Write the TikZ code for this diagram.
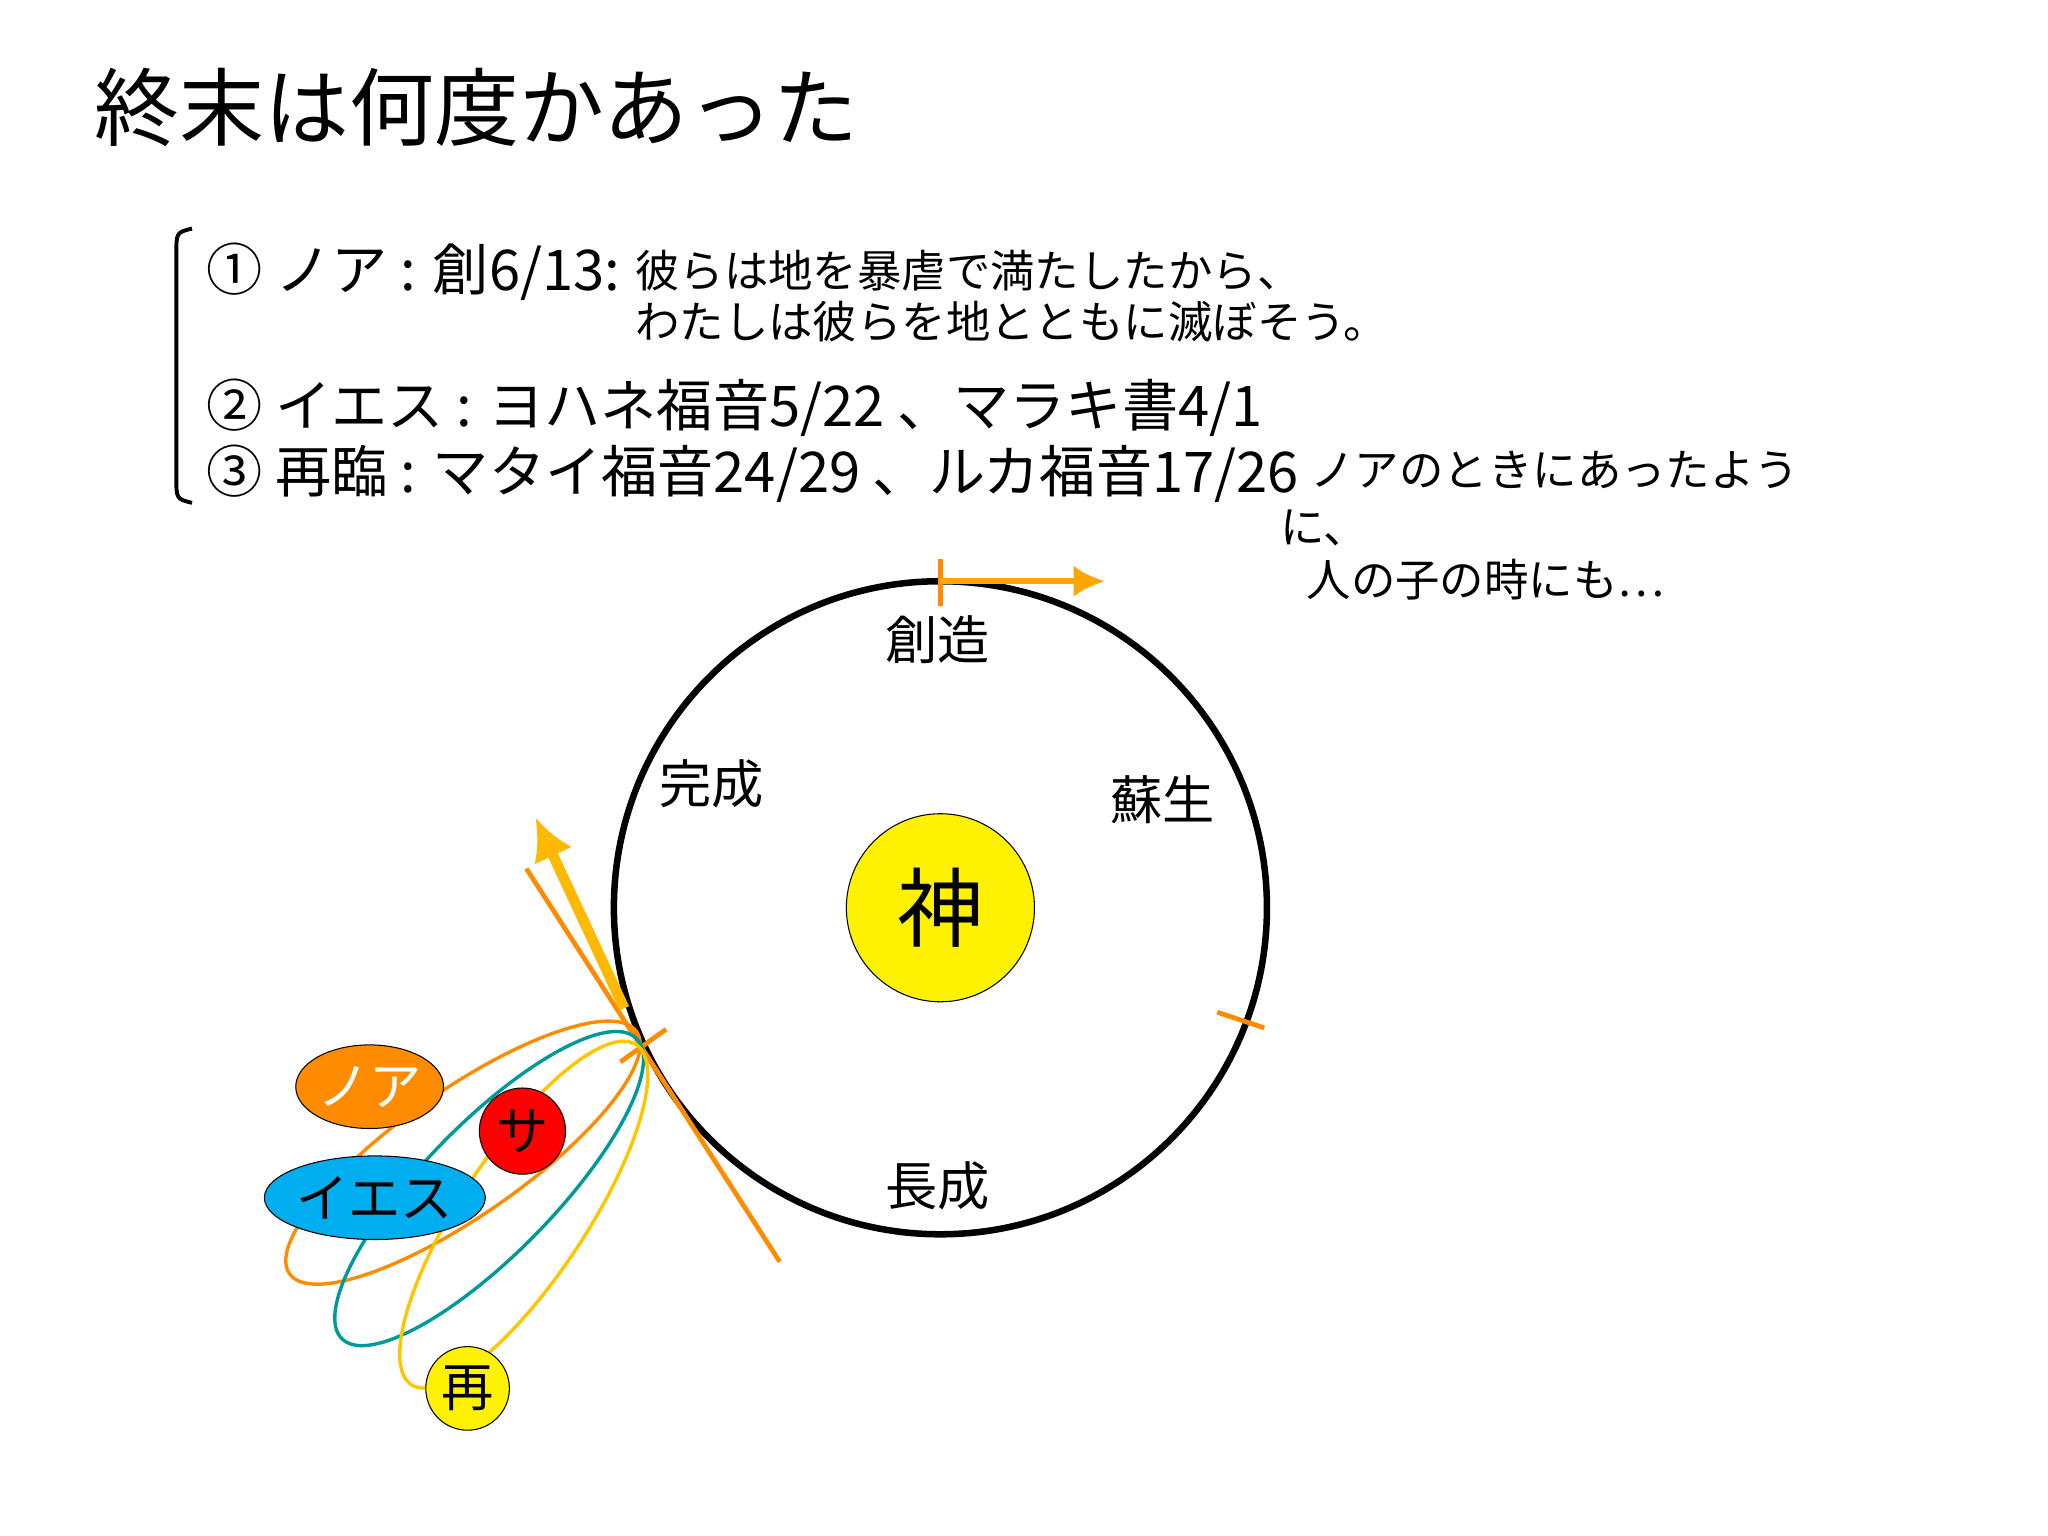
\documentclass[tikz,border=0pt]{standalone}
\usepackage{fontspec}
\usetikzlibrary{arrows.meta,shapes.geometric}
\setmainfont{Noto Sans CJK JP}
\begin{document}
\begin{tikzpicture}[x=0.5pt,y=-0.5pt,
  lbl/.style={inner sep=0pt,font=\fontsize{20}{24}\selectfont},
  body/.style={anchor=west,inner sep=0pt,font=\fontsize{21.5}{25}\selectfont},
  small/.style={anchor=west,inner sep=0pt,font=\fontsize{17}{20}\selectfont},
  tick/.style={draw=orange!90!yellow,line width=1.8pt},
  loop/.style={line width=1.3pt}]
\useasboundingbox[fill=white] (0,0) rectangle (1568,1176);
\node[anchor=west,inner sep=0pt,font=\fontsize{32.5}{38}\selectfont] (title) at (72,82) {終末は何度かあった};
\draw[line width=1.5pt] (147,175) .. controls (135,178) .. (135,195) -- (135,365) .. controls (135,382) .. (147,385);
\node[body] (l1) at (158,208) {① ノア : 創6/13:};
\node[small] (l1a) at (486,207) {彼らは地を暴虐で満たしたから、};
\node[small] (l1b) at (486,246) {わたしは彼らを地とともに滅ぼそう。};
\node[body] (l2) at (158,312) {② イエス : ヨハネ福音5/22 、マラキ書4/1};
\node[body] (l3) at (158,363) {③ 再臨 : マタイ福音24/29 、ルカ福音17/26};
\node[small] (l3a) at (1003,360) {ノアのときにあったよう};
\node[small] (l3b) at (980,404) {に、};
\node[small] (l3c) at (1000,444) {人の子の時にも…};
\node[draw,circle,line width=2.5pt,minimum size=250pt,inner sep=0pt] (c) at (720,695) {};
\node[draw,circle,fill=yellow,minimum size=72pt,inner sep=0pt,font=\fontsize{33}{38}\selectfont] (god) at (720,695) {神};
\node[lbl] (s1) at (718,490) {創造};
\node[lbl] (s2) at (545,600) {完成};
\node[lbl] (s3) at (890,612) {蘇生};
\node[lbl] (s4) at (718,908) {長成};
\coordinate (t1) at (720,428); \coordinate (t2) at (720,464);
\draw[tick] (t1) -- (t2);
\coordinate (a1) at (720,445); \coordinate (a2) at (846,445);
\draw[draw=orange!70!yellow,line width=2.5pt,-{Latex[length=12pt,width=12pt]}] (a1) -- (a2);
\coordinate (r1) at (932,775); \coordinate (r2) at (968,787);
\draw[tick] (r1) -- (r2);
\coordinate (g1) at (403,665); \coordinate (g2) at (597,966);
\draw[tick] (g1) -- (g2);
\coordinate (h1) at (478,772); \coordinate (h2) at (410,626);
\draw[draw=orange!55!yellow,line width=4pt,-{Latex[length=16pt,width=16pt]}] (h1) -- (h2);
\coordinate (k1) at (475,813); \coordinate (k2) at (510,788);
\draw[tick] (k1) -- (k2);
\draw[loop,orange!90!yellow,shift={(354.5,882.5)},rotate=34.9] (0,0) ellipse (81pt and 24pt);
\draw[loop,teal!80!cyan,shift={(374.5,910)},rotate=45.6] (0,0) ellipse (80.5pt and 25pt);
\draw[loop,orange!45!yellow,shift={(401,930)},rotate=56.5] (0,0) ellipse (78pt and 24pt);
\node[draw,ellipse,fill=orange!90!yellow,minimum width=45pt,minimum height=32pt,inner sep=0pt,text=white,font=\fontsize{20}{24}\selectfont] (noa) at (283,832) {ノア};
\node[draw,circle,fill=red,minimum size=33pt,inner sep=0pt,font=\fontsize{20}{24}\selectfont] (sa) at (400,866) {サ};
\node[draw,ellipse,fill=cyan,minimum width=68pt,minimum height=32pt,inner sep=0pt,font=\fontsize{20}{24}\selectfont] (ie) at (287,917) {イエス};
\node[draw,circle,fill=yellow,minimum size=32pt,inner sep=0pt,font=\fontsize{20}{24}\selectfont] (sai) at (358,1063) {再};
\end{tikzpicture}
\end{document}
